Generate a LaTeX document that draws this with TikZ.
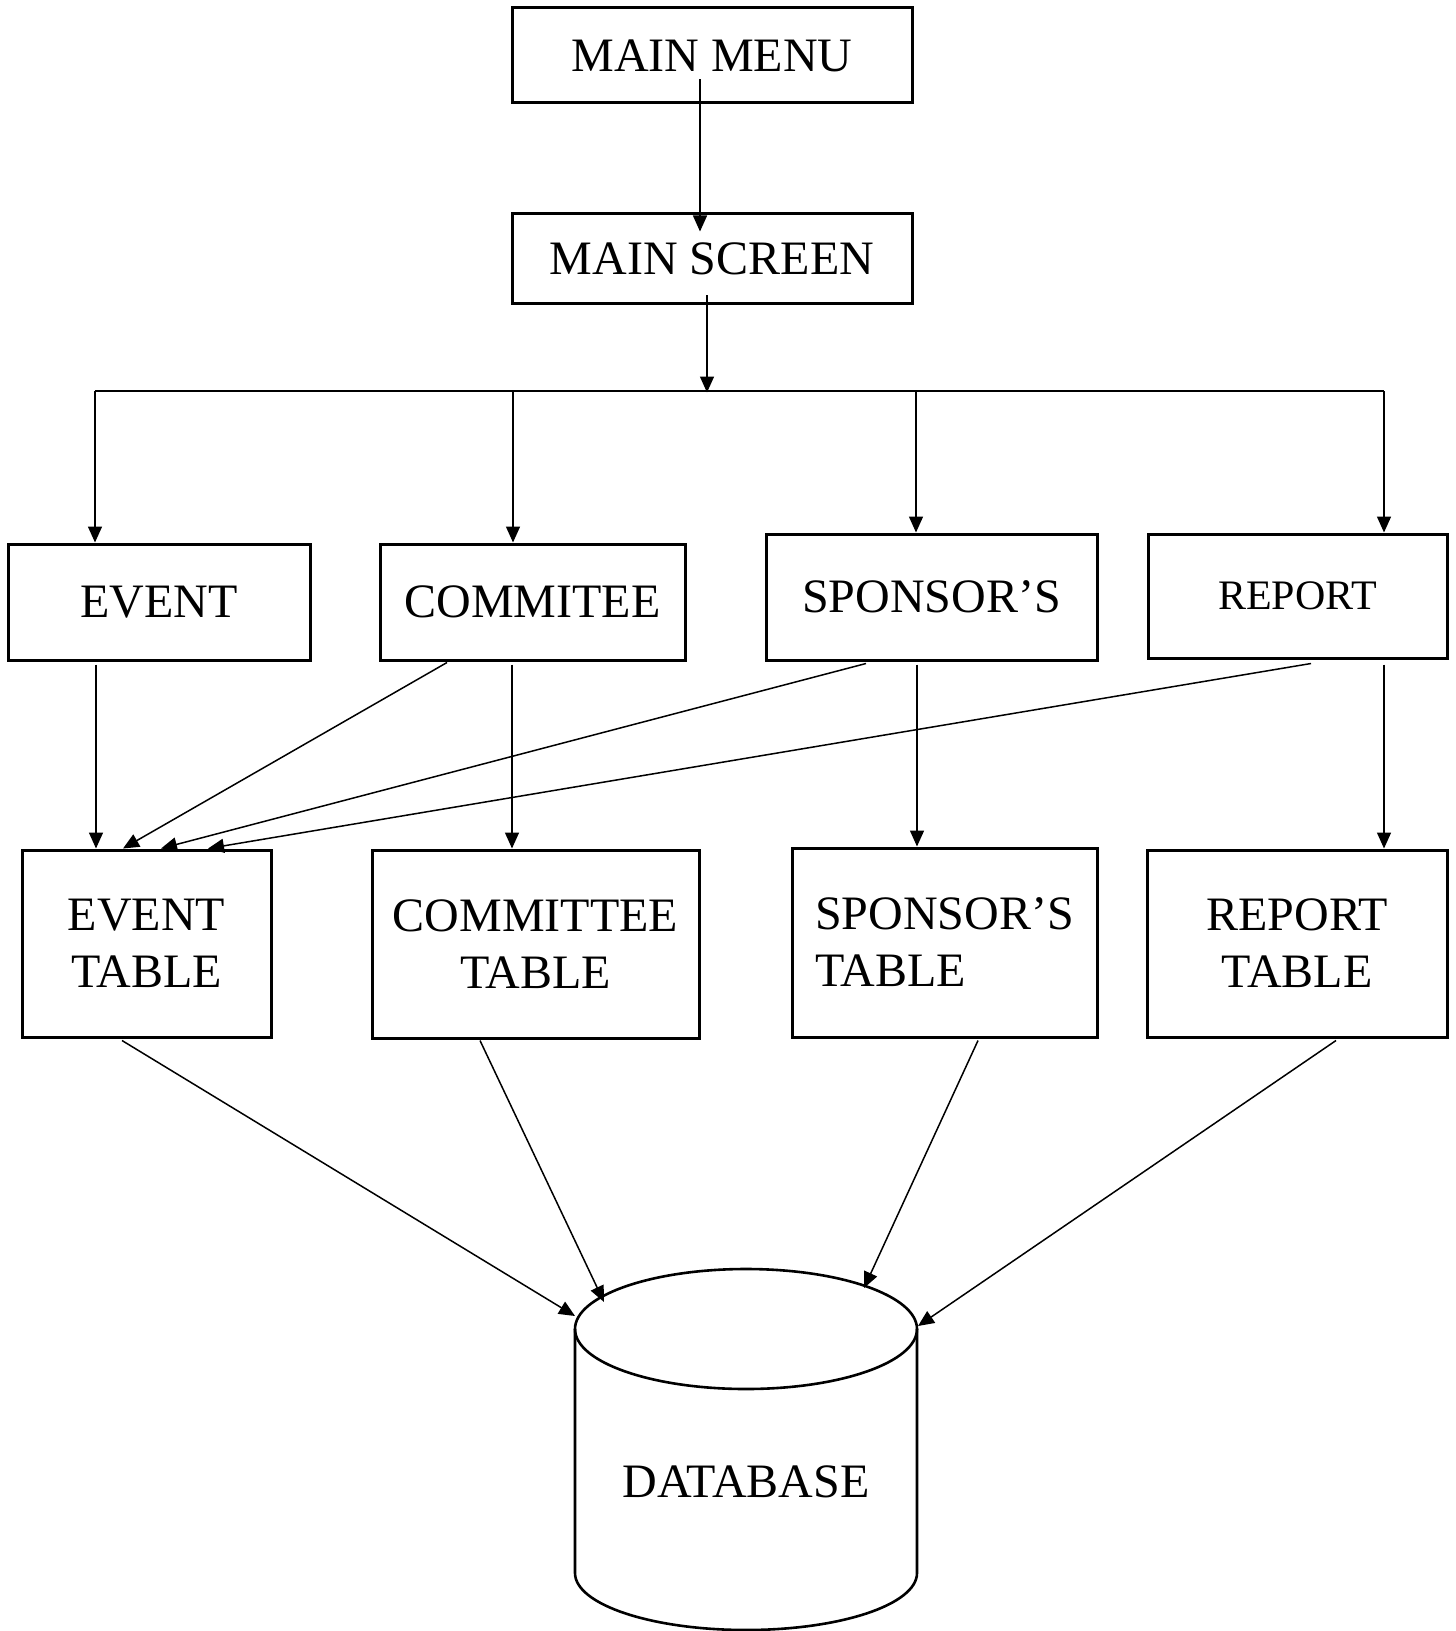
\documentclass[tikz,border=0pt]{standalone}
\usepackage{fontspec}
\setmainfont{Liberation Serif}
\usetikzlibrary{arrows.meta,calc}
\tikzset{
  box/.style={draw, line width=1.5pt, inner sep=0pt, align=center, font=\fontsize{24pt}{28.5pt}\selectfont},
  arr/.style={line width=0.75pt, -{Triangle[length=8pt,width=7pt]}},
  ln/.style={line width=0.75pt},
  dbline/.style={line width=1.3pt}
}
\begin{document}
\begin{tikzpicture}[x=0.5pt,y=-0.5pt]
\useasboundingbox (0,0) rectangle (1455,1631);
% top
\node[box, minimum width=200pt, minimum height=47.5pt] (mm) at (712,55.5) {MAIN MENU};
\node[box, minimum width=200pt, minimum height=45pt] (ms) at (712,259) {MAIN SCREEN};
% second row
\node[box, minimum width=151pt, minimum height=58pt] (ev) at (159,602) {EVENT};
\node[box, minimum width=152.5pt, minimum height=58pt] (co) at (532.5,602) {COMMITEE};
\node[box, minimum width=165.5pt, minimum height=63pt] (sp) at (931.5,597) {SPONSOR’S};
\node[box, minimum width=149.5pt, minimum height=62pt, font=\fontsize{21pt}{25pt}\selectfont] (re) at (1297.5,596) {REPORT};
% tables
\node[box, minimum width=124.5pt, minimum height=93.5pt] (et) at (146.5,943.5) {EVENT\\TABLE};
\node[box, minimum width=163.5pt, minimum height=94pt] (ct) at (535.5,944) {COMMITTEE\\TABLE};
\node[box, minimum width=152.5pt, minimum height=94.5pt, align=left] (st) at (944.5,942.5) {SPONSOR’S\\TABLE};
\node[box, minimum width=150pt, minimum height=93.5pt] (rt) at (1297,943.5) {REPORT\\TABLE};
% database cylinder
\draw[dbline] (746,1329) ellipse [x radius=85.5pt, y radius=30pt];
\draw[dbline] (575,1329) -- (575,1573) arc[start angle=180, end angle=360, x radius=85.5pt, y radius=28.5pt] -- (917,1329);
\node[font=\fontsize{24pt}{28.5pt}\selectfont, inner sep=0pt] (db) at (746,1482) {DATABASE};
\coordinate (dbA) at (575,1316);
\coordinate (dbB) at (604,1302);
\coordinate (dbC) at (864,1288);
\coordinate (dbD) at (918,1326);
% main menu -> main screen
\draw[arr] ($(mm.south)+(-12,-25)$) -- ($(ms.north)+(-12,19)$);
% main screen -> branch
\coordinate (jn) at ($(ms.south)+(-5,87)$);
\draw[arr] ($(ms.south)+(-5,-10)$) -- (jn);
\coordinate (hL) at (95,391);
\coordinate (hR) at (1384,391);
\draw[ln] (hL) -- (hR);
\coordinate (b2) at (513,391);
\coordinate (b3) at (916,391);
\draw[arr] (hL) -- (ev.north -| hL);
\draw[arr] (b2) -- (co.north -| b2);
\draw[arr] (b3) -- (sp.north -| b3);
\draw[arr] (hR) -- (re.north -| hR);
% second row -> tables
\coordinate (e1) at ($(ev.south)+(-63,3)$);
\draw[arr] (e1) -- (et.north -| e1);
\draw[arr] ($(co.south)+(-85.5,1)$) -- ($(et.north)+(-23.5,0)$);
\coordinate (c1) at ($(co.south)+(-20.5,3)$);
\draw[arr] (c1) -- (ct.north -| c1);
\draw[arr] ($(sp.south)+(-65.5,2)$) -- ($(et.north)+(14.5,0)$);
\coordinate (s1) at ($(sp.south)+(-14.5,3)$);
\draw[arr] (s1) -- (st.north -| s1);
\draw[arr] ($(re.south)+(13.5,4)$) -- ($(et.north)+(61.5,0)$);
\coordinate (r1) at ($(re.south)+(86.5,5)$);
\draw[arr] (r1) -- (rt.north -| r1);
% tables -> database
\draw[arr] ($(et.south)+(-24.5,2)$) -- (dbA);
\draw[arr] ($(ct.south)+(-55.5,1)$) -- (dbB);
\draw[arr] ($(st.south)+(33.5,2)$) -- (dbC);
\draw[arr] ($(rt.south)+(39,2)$) -- (dbD);
\end{tikzpicture}
\end{document}
